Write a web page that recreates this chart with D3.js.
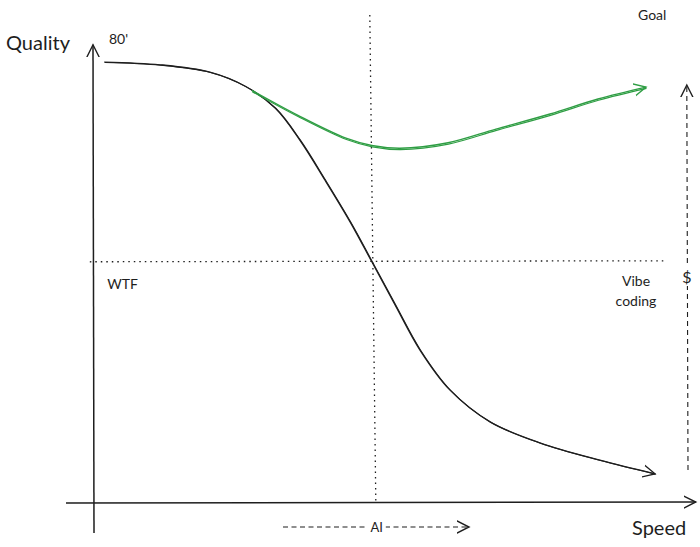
<!DOCTYPE html>
<html><head><meta charset="utf-8">
<script src="https://cdn.jsdelivr.net/npm/d3@7"></script>
<style>body{margin:0;background:#fff}text{font-family:"Comic Sans MS","Lato","DejaVu Sans",sans-serif;fill:#1e1e1e}</style>
</head><body><svg id="c" width="700" height="547"></svg>
<script>
// Speed (0-100) vs Quality (0-100)
const speed_black = [1.7, 11, 19.3, 25.2, 30.2, 34.3, 38.5, 42.7, 46.3, 50.2, 54.3, 59.3, 66, 74.3, 84.3, 93.5];
const quality_black = [96.7, 96.1, 94.5, 91.4, 86.6, 79.6, 70.8, 61.6, 52.9, 43.4, 33.6, 24.8, 17.8, 13.2, 9.4, 6.4];
const speed_green = [26.3, 34, 42, 46.3, 51, 59, 67, 76, 84, 92];
const quality_green = [90.5, 85, 80, 78.4, 77.8, 79, 82, 85.3, 88.6, 91.2];
const wtfQuality = 52.9;   // horizontal dotted threshold
const aiSpeed = 46.3;      // vertical dotted marker
const labels = ["Quality", "80'", "Goal", "WTF", "Vibe", "coding", "$", "Speed", "AI"];

const svg = d3.select("#c");
const x = d3.scaleLinear().domain([0, 100]).range([94, 694]);
const y = d3.scaleLinear().domain([0, 100]).range([503, 47]);
const ink = "#1e1e1e", green = "#2f9e44";

const defs = svg.append("defs");
function marker(id, col) {
  defs.append("marker").attr("id", id).attr("viewBox", "-12 -8 14 16")
    .attr("refX", 0).attr("refY", 0).attr("markerWidth", 14).attr("markerHeight", 16)
    .attr("markerUnits", "userSpaceOnUse").attr("orient", "auto")
    .append("path").attr("d", "M-12,-6 L0,0 L-12,6").attr("fill", "none")
    .attr("stroke", col).attr("stroke-width", 1.4).attr("stroke-linecap", "round");
}
marker("ak", ink); marker("ag", green);

// axes
svg.append("line").attr("x1", x(0)).attr("y1", 533).attr("x2", x(0) - 1).attr("y2", y(100.5))
  .attr("stroke", ink).attr("stroke-width", 1.5).attr("marker-end", "url(#ak)");
svg.append("line").attr("x1", 66).attr("y1", y(0)).attr("x2", x(100.3)).attr("y2", y(0) - 1)
  .attr("stroke", ink).attr("stroke-width", 1.5).attr("marker-end", "url(#ak)");

// dotted guides
svg.append("line").attr("x1", x(aiSpeed) - 2).attr("y1", 15).attr("x2", x(aiSpeed) + 4).attr("y2", y(0) - 2)
  .attr("stroke", ink).attr("stroke-width", 1.3).attr("stroke-dasharray", "1.5,4");
svg.append("line").attr("x1", x(-0.7)).attr("y1", y(wtfQuality)).attr("x2", x(95.3)).attr("y2", y(wtfQuality) - 1)
  .attr("stroke", ink).attr("stroke-width", 1.3).attr("stroke-dasharray", "1.5,4");

const line = d3.line().x(d => x(d[0])).y(d => y(d[1])).curve(d3.curveCatmullRom.alpha(0.5));
const blk = speed_black.map((s, i) => [s, quality_black[i]]);
const grn = speed_green.map((s, i) => [s, quality_green[i]]);

// sketchy double strokes
svg.append("path").attr("d", line(blk)).attr("fill", "none").attr("stroke", ink).attr("stroke-width", 1.1).attr("transform", "translate(0.8,0.4)");
svg.append("path").attr("d", line(blk)).attr("fill", "none").attr("stroke", ink).attr("stroke-width", 1.3).attr("marker-end", "url(#ak)");
svg.append("path").attr("d", line(grn)).attr("fill", "none").attr("stroke", green).attr("stroke-width", 1.2).attr("transform", "translate(0.5,1.3)");
svg.append("path").attr("d", line(grn)).attr("fill", "none").attr("stroke", green).attr("stroke-width", 1.4).attr("marker-end", "url(#ag)");

// dashed AI arrow
svg.append("line").attr("x1", x(31.5)).attr("y1", 527).attr("x2", x(62.5)).attr("y2", 527)
  .attr("stroke", ink).attr("stroke-width", 1.1).attr("stroke-dasharray", "5,3.5").attr("marker-end", "url(#ak)");
svg.append("rect").attr("x", x(aiSpeed) - 4).attr("y", 518).attr("width", 18).attr("height", 18).attr("fill", "#fff");
// dashed $ arrow
svg.append("line").attr("x1", x(99)).attr("y1", 470).attr("x2", x(98.8)).attr("y2", 85)
  .attr("stroke", ink).attr("stroke-width", 1.1).attr("stroke-dasharray", "5,4").attr("marker-end", "url(#ak)");
svg.append("rect").attr("x", x(98.8) - 6).attr("y", 264).attr("width", 12).attr("height", 22).attr("fill", "#fff");

// labels
const T = (t, px, py, size, anchor) => svg.append("text").attr("x", px).attr("y", py)
  .attr("font-size", size).attr("text-anchor", anchor || "start").text(t);
T(labels[0], 6, 50, 20);
T(labels[1], x(2.5), y(96.5) - 19, 14);
T(labels[2], 638, 20, 14);
T(labels[3], x(2.2), y(wtfQuality) + 27, 14);
T(labels[4], 636, 286, 14, "middle");
T(labels[5], 636, 306, 14, "middle");
T(labels[6], x(98.8), 283, 16, "middle");
T(labels[7], 632, 535, 20);
T(labels[8], x(aiSpeed) + 5, 532, 13, "middle");
</script></body></html>
